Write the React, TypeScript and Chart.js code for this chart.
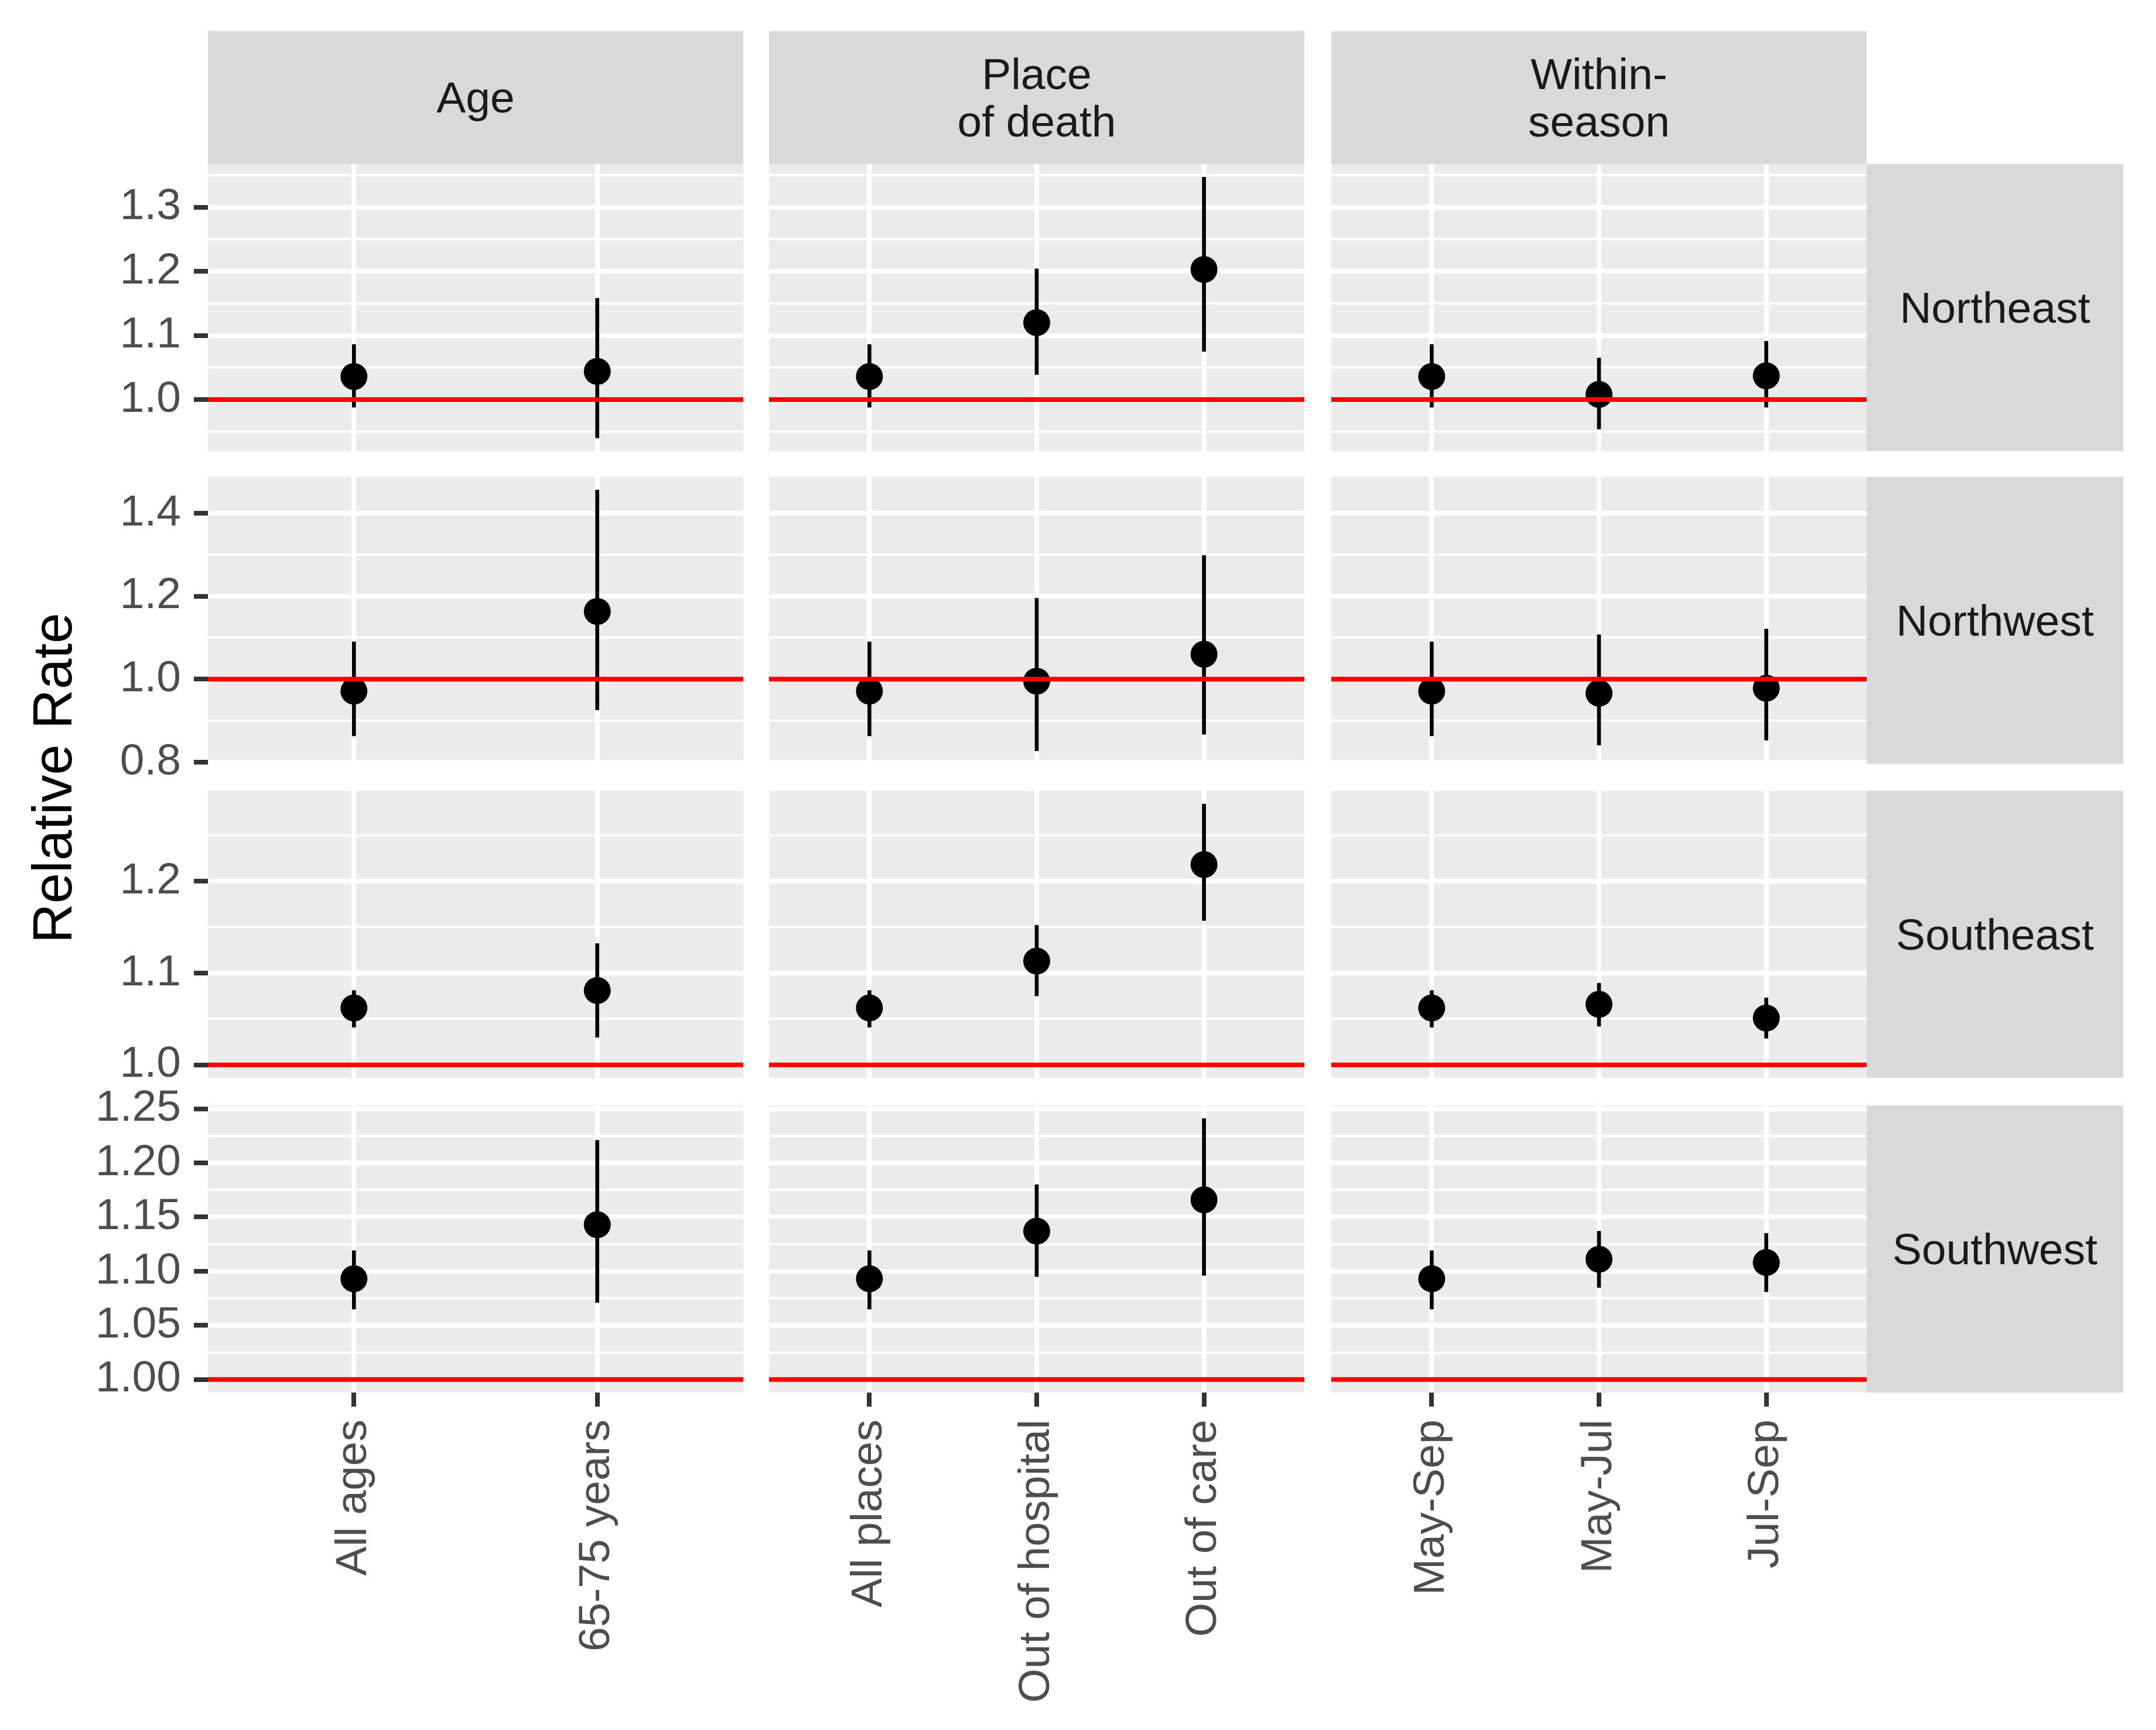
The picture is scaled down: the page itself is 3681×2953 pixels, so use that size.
import React, { useEffect, useRef } from 'react';
import { Chart, registerables } from 'chart.js';

Chart.register(...registerables);

// ---------- data ----------
const regions = ['Northeast', 'Northwest', 'Southeast', 'Southwest'];
const facetTitles = ['Age', 'Place\nof death', 'Within-\nseason'];
const ageCategories = ['All ages', '65-75 years'];
const placeCategories = ['All places', 'Out of hospital', 'Out of care'];
const seasonCategories = ['May-Sep', 'May-Jul', 'Jul-Sep'];

// value order: All ages, 65-75 years | All places, Out of hospital, Out of care | May-Sep, May-Jul, Jul-Sep
const northeastEst = [1.036, 1.044, 1.036, 1.12, 1.203, 1.036, 1.008, 1.037];
const northeastLow = [0.988, 0.94, 0.988, 1.039, 1.075, 0.988, 0.954, 0.988];
const northeastHigh = [1.086, 1.158, 1.086, 1.204, 1.347, 1.086, 1.065, 1.091];

const northwestEst = [0.971, 1.163, 0.971, 0.995, 1.06, 0.971, 0.966, 0.978];
const northwestLow = [0.863, 0.926, 0.863, 0.827, 0.867, 0.863, 0.841, 0.853];
const northwestHigh = [1.09, 1.456, 1.09, 1.195, 1.298, 1.09, 1.107, 1.121];

const southeastEst = [1.062, 1.081, 1.062, 1.113, 1.218, 1.062, 1.066, 1.051];
const southeastLow = [1.041, 1.03, 1.041, 1.075, 1.157, 1.041, 1.042, 1.029];
const southeastHigh = [1.081, 1.132, 1.081, 1.152, 1.284, 1.081, 1.089, 1.073];

const southwestEst = [1.093, 1.143, 1.093, 1.137, 1.166, 1.093, 1.111, 1.108];
const southwestLow = [1.065, 1.071, 1.065, 1.095, 1.096, 1.065, 1.085, 1.081];
const southwestHigh = [1.119, 1.221, 1.119, 1.18, 1.241, 1.119, 1.137, 1.135];

const northeastTicks = [1.0, 1.1, 1.2, 1.3];
const northeastTickLabels = ['1.0', '1.1', '1.2', '1.3'];
const northwestTicks = [0.8, 1.0, 1.2, 1.4];
const northwestTickLabels = ['0.8', '1.0', '1.2', '1.4'];
const southeastTicks = [1.0, 1.1, 1.2];
const southeastTickLabels = ['1.0', '1.1', '1.2'];
const southwestTicks = [1.0, 1.05, 1.1, 1.15, 1.2, 1.25];
const southwestTickLabels = ['1.00', '1.05', '1.10', '1.15', '1.20', '1.25'];

const referenceRate = 1;

// ---------- assembled tables ----------
const columnCategories = [ageCategories, placeCategories, seasonCategories];
const columnOffsets = [0, 2, 5];
const rowEst = [northeastEst, northwestEst, southeastEst, southwestEst];
const rowLow = [northeastLow, northwestLow, southeastLow, southwestLow];
const rowHigh = [northeastHigh, northwestHigh, southeastHigh, southwestHigh];
const rowTicks = [northeastTicks, northwestTicks, southeastTicks, southwestTicks];
const rowTickLabels = [northeastTickLabels, northwestTickLabels, southeastTickLabels, southwestTickLabels];

// ---------- layout ----------
const FONT = '"Liberation Sans", Arial, Helvetica, sans-serif';
const colLeft = [355, 1313, 2273];
const rowTop = [280, 814, 1350, 1887];
const panelW = 914;
const panelH = 490;
const stripTop = 53;
const stripH = 227;
const rightStripLeft = 3187;
const rightStripW = 438;
const yAxisW = 205;
const xAxisH = 560;
const PAD = 60;

const bgPlugin = {
  id: 'panelBg',
  beforeDraw(chart: any) {
    const { ctx, chartArea } = chart;
    ctx.save();
    ctx.fillStyle = '#EBEBEB';
    ctx.fillRect(chartArea.left, chartArea.top, chartArea.right - chartArea.left, chartArea.bottom - chartArea.top);
    ctx.restore();
  },
};

function Panel({ row, col }: { row: number; col: number }) {
  const ref = useRef<HTMLCanvasElement | null>(null);
  const showY = col === 0;
  const showX = row === 3;
  const left = showY ? colLeft[col] - yAxisW : colLeft[col] - PAD;
  const width = (showY ? yAxisW : PAD) + panelW + PAD;
  const top = rowTop[row] - PAD;
  const height = PAD + panelH + (showX ? xAxisH : PAD);

  useEffect(() => {
    const canvas = ref.current;
    if (!canvas) return;
    const cats = columnCategories[col];
    const off = columnOffsets[col];
    const est = rowEst[row].slice(off, off + cats.length);
    const low = rowLow[row].slice(off, off + cats.length);
    const high = rowHigh[row].slice(off, off + cats.length);

    // free y-scale per row (ggplot: 5% expansion of the data range, incl. reference line)
    const all = [...rowEst[row], ...rowLow[row], ...rowHigh[row], referenceRate];
    const lo = Math.min(...all);
    const hi = Math.max(...all);
    const ymin = lo - 0.05 * (hi - lo);
    const ymax = hi + 0.05 * (hi - lo);

    const majors = rowTicks[row];
    const labels = rowTickLabels[row];
    const step = majors[1] - majors[0];
    const minors: number[] = [];
    for (let k = -1; k < majors.length; k++) {
      const m = majors[0] + (k + 0.5) * step;
      if (m >= ymin && m <= ymax) minors.push(m);
    }
    const yTickValues = [...majors, ...minors].sort((a, b) => a - b);
    const majorIndex = (v: number) => majors.findIndex((m) => Math.abs(m - v) < 1e-9);

    const xmin = 0.4;
    const xmax = cats.length + 0.6;

    const chart = new Chart(canvas, {
      type: 'scatter',
      data: {
        datasets: [
          {
            type: 'line',
            data: [
              { x: xmin, y: referenceRate },
              { x: xmax, y: referenceRate },
            ],
            borderColor: '#FF0000',
            borderWidth: 8,
            pointRadius: 0,
            fill: false,
          } as any,
          {
            type: 'scatter',
            data: cats.map((_, i) => ({ x: i + 1, y: est[i] })),
            backgroundColor: '#000000',
            borderWidth: 0,
            pointRadius: 23,
            pointHoverRadius: 23,
          } as any,
          {
            type: 'bar',
            data: cats.map((_, i) => ({ x: i + 1, y: [low[i], high[i]] })),
            backgroundColor: '#000000',
            borderWidth: 0,
            barThickness: 6,
          } as any,
        ],
      },
      options: {
        animation: false,
        responsive: false,
        devicePixelRatio: 1,
        events: [],
        layout: {
          padding: {
            left: showY ? 0 : PAD,
            right: PAD,
            top: PAD,
            bottom: showX ? 0 : PAD,
          },
        },
        plugins: {
          legend: { display: false },
          tooltip: { enabled: false },
        },
        scales: {
          x: {
            type: 'linear',
            min: xmin,
            max: xmax,
            offset: false,
            afterBuildTicks: (scale: any) => {
              scale.ticks = cats.map((_, i) => ({ value: i + 1 }));
            },
            afterFit: (scale: any) => {
              scale.height = showX ? xAxisH : 0;
              scale.paddingLeft = 0;
              scale.paddingRight = 0;
            },
            border: { display: false },
            grid: {
              offset: false,
              color: '#FFFFFF',
              lineWidth: 8,
              drawTicks: showX,
              tickLength: 24,
              tickColor: '#333333',
              tickWidth: 8,
            },
            ticks: {
              display: showX,
              autoSkip: false,
              minRotation: 90,
              maxRotation: 90,
              padding: 22,
              color: '#4D4D4D',
              font: { family: FONT, size: 75 },
              callback: (_v: any, i: number) => cats[i] ?? '',
            },
          },
          y: {
            type: 'linear',
            min: ymin,
            max: ymax,
            afterBuildTicks: (scale: any) => {
              scale.ticks = yTickValues.map((v) => ({ value: v }));
            },
            afterFit: (scale: any) => {
              scale.width = showY ? yAxisW : 0;
              scale.paddingTop = 0;
              scale.paddingBottom = 0;
            },
            border: { display: false },
            grid: {
              offset: false,
              color: '#FFFFFF',
              lineWidth: (ctx: any) => (ctx.tick && majorIndex(ctx.tick.value) >= 0 ? 8 : 4),
              drawTicks: showY,
              tickLength: 24,
              tickColor: (ctx: any) => (ctx.tick && majorIndex(ctx.tick.value) >= 0 ? '#333333' : 'rgba(0,0,0,0)'),
              tickWidth: 8,
            },
            ticks: {
              display: showY,
              autoSkip: false,
              padding: 22,
              color: '#4D4D4D',
              font: { family: FONT, size: 75 },
              callback: (v: any) => {
                const k = majorIndex(Number(v));
                return k >= 0 ? labels[k] : '';
              },
            },
          },
        },
      } as any,
      plugins: [bgPlugin],
    });
    return () => chart.destroy();
  }, [row, col]);

  return (
    <canvas
      ref={ref}
      width={width}
      height={height}
      style={{ position: 'absolute', left, top, width, height }}
    />
  );
}

export default function App() {
  const panels: React.ReactNode[] = [];
  for (let r = 0; r < regions.length; r++) {
    for (let c = 0; c < columnCategories.length; c++) {
      panels.push(<Panel key={`${r}-${c}`} row={r} col={c} />);
    }
  }
  return (
    <div
      style={{
        position: 'absolute',
        left: 0,
        top: 0,
        width: 3681,
        height: 2953,
        background: '#FFFFFF',
        fontFamily: FONT,
        overflow: 'hidden',
      }}
    >
      {facetTitles.map((t, c) => (
        <div
          key={`top-${c}`}
          style={{
            position: 'absolute',
            left: colLeft[c],
            top: stripTop,
            width: panelW,
            height: stripH,
            background: '#D9D9D9',
            color: '#1A1A1A',
            fontSize: 75,
            lineHeight: '81px',
            whiteSpace: 'pre-line',
            textAlign: 'center',
            display: 'flex',
            alignItems: 'center',
            justifyContent: 'center',
          }}
        >
          <span>{t}</span>
        </div>
      ))}
      {regions.map((name, r) => (
        <div
          key={`right-${r}`}
          style={{
            position: 'absolute',
            left: rightStripLeft,
            top: rowTop[r],
            width: rightStripW,
            height: panelH,
            background: '#D9D9D9',
            color: '#1A1A1A',
            fontSize: 75,
            display: 'flex',
            alignItems: 'center',
            justifyContent: 'center',
          }}
        >
          <span>{name}</span>
        </div>
      ))}
      <div
        style={{
          position: 'absolute',
          left: 90,
          top: 1328,
          transform: 'translate(-50%, -50%) rotate(-90deg)',
          whiteSpace: 'nowrap',
          fontSize: 94,
          color: '#000000',
        }}
      >
        Relative Rate
      </div>
      {panels}
    </div>
  );
}
